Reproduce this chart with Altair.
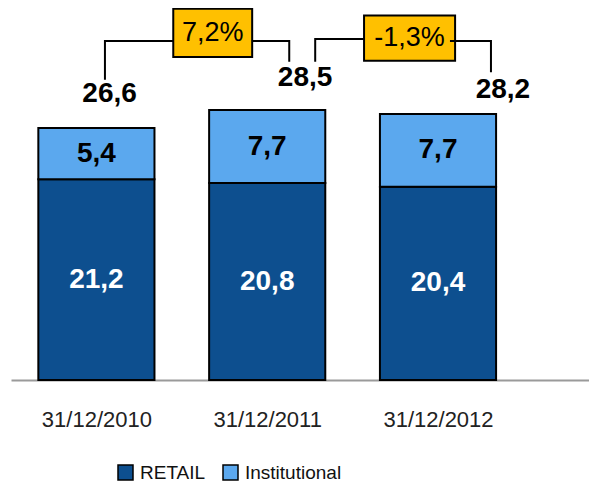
import altair as alt
import pandas as pd

# ---- data ----
categories = ["31/12/2010", "31/12/2011", "31/12/2012"]
retail = [21.2, 20.8, 20.4]
institutional = [5.4, 7.7, 7.7]
totals = [26.6, 28.5, 28.2]
changes = ["7,2%", "-1,3%"]

# ---- style ----
RETAIL_C = "#0D4F8F"
INST_C = "#5BA8EE"
FONT = "Liberation Sans"
HALF = 0.34
TOTAL_SHIFT_X = [0.077, 0.222, 0.38]
TOTAL_LIFT = [3.6, 3.4, 2.4]
BRACKET_GAP = [5.1, 5.1, 4.3]


def fmt(v):
    return f"{v:.1f}".replace(".", ",")


rows = []
for i, c in enumerate(categories):
    r, s = retail[i], institutional[i]
    rows.append(dict(idx=i, cat=c, series="RETAIL", x0=i - HALF, x1=i + HALF,
                     y0=0.0, y1=r, ym=r / 2, label=fmt(r), tcolor="white"))
    rows.append(dict(idx=i, cat=c, series="Institutional", x0=i - HALF, x1=i + HALF,
                     y0=r, y1=r + s, ym=r + s / 2, label=fmt(s), tcolor="black"))
seg = pd.DataFrame(rows)

tot = pd.DataFrame(dict(
    x=[i + TOTAL_SHIFT_X[i] for i in range(3)],
    y=[totals[i] + TOTAL_LIFT[i] for i in range(3)],
    label=[fmt(t) for t in totals],
))

# annotation boxes
boxes = pd.DataFrame(dict(
    x0=[0.45, 1.567], x1=[0.912, 2.10],
    y0=[34.1, 33.7], y1=[39.2, 38.5],
    label=changes,
))
boxes["xm"] = (boxes.x0 + boxes.x1) / 2
boxes["ym"] = (boxes.y0 + boxes.y1) / 2

# bracket connectors
paths = []
def add(pid, pts):
    for k, (x, y) in enumerate(pts):
        paths.append(dict(pid=pid, k=k, x=x, y=y))

add("a", [(0.05, totals[0] + BRACKET_GAP[0]), (0.05, 35.8), (0.45, 35.8)])
add("b", [(0.912, 35.8), (1.129, 35.8), (1.129, totals[1] + BRACKET_GAP[1])])
add("c", [(1.281, totals[1] + BRACKET_GAP[1]), (1.281, 36.0), (1.567, 36.0)])
add("d", [(2.07, 35.8), (2.31, 35.8), (2.31, totals[2] + BRACKET_GAP[2])])
lines = pd.DataFrame(paths)

xs = alt.Scale(domain=[-0.5, 2.884], nice=False, zero=False)
ys = alt.Scale(domain=[0, 39.28], nice=False, zero=True)

label_expr = "[" + ",".join(f"'{c}'" for c in categories) + "][datum.value]"

bars = alt.Chart(seg).mark_rect(stroke="black", strokeWidth=2).encode(
    x=alt.X("x0:Q", scale=xs, title=None,
            axis=alt.Axis(values=[0, 1, 2], labelExpr=label_expr, ticks=False,
                          tickSize=0, grid=False, domainColor="#9A9A9A", domainWidth=2,
                          labelFont=FONT, labelFontSize=22, labelColor="#222222",
                          labelPadding=39, labelBaseline="middle")),
    x2="x1:Q",
    y=alt.Y("y0:Q", scale=ys, axis=None),
    y2="y1:Q",
    color=alt.Color("series:N",
                    scale=alt.Scale(domain=["RETAIL", "Institutional"], range=[RETAIL_C, INST_C]),
                    legend=alt.Legend(title=None, orient="none", legendX=105, legendY=455,
                                      direction="horizontal", symbolType="square",
                                      symbolSize=225, symbolStrokeColor="black",
                                      symbolStrokeWidth=1.5, labelFont=FONT,
                                      labelFontSize=19, labelColor="#111111",
                                      columnPadding=14, labelOffset=5, padding=0)),
)

seg_text = alt.Chart(seg).mark_text(font=FONT, fontSize=28, fontWeight="bold").encode(
    x=alt.X("idx:Q", scale=xs),
    y=alt.Y("ym:Q", scale=ys),
    text="label:N",
    color=alt.Color("tcolor:N", scale=None),
)

total_text = alt.Chart(tot).mark_text(font=FONT, fontSize=28, fontWeight="bold", color="black").encode(
    x=alt.X("x:Q", scale=xs), y=alt.Y("y:Q", scale=ys), text="label:N"
)

box_rect = alt.Chart(boxes).mark_rect(fill="#FFC000", stroke="black", strokeWidth=2).encode(
    x=alt.X("x0:Q", scale=xs), x2="x1:Q", y=alt.Y("y0:Q", scale=ys), y2="y1:Q"
)

box_text = alt.Chart(boxes).mark_text(font=FONT, fontSize=27, color="black").encode(
    x=alt.X("xm:Q", scale=xs), y=alt.Y("ym:Q", scale=ys), text="label:N"
)

connectors = alt.Chart(lines).mark_line(color="black", strokeWidth=2).encode(
    x=alt.X("x:Q", scale=xs), y=alt.Y("y:Q", scale=ys), detail="pid:N", order="k:Q"
)

chart = alt.layer(bars, seg_text, total_text, box_rect, box_text, connectors).properties(
    width=578, height=372, autosize="none",
    padding={"left": 3, "top": 0, "right": 0, "bottom": 104},
).configure_view(stroke=None)

chart.save("out.html", embed_options={"renderer": "svg", "actions": False})
